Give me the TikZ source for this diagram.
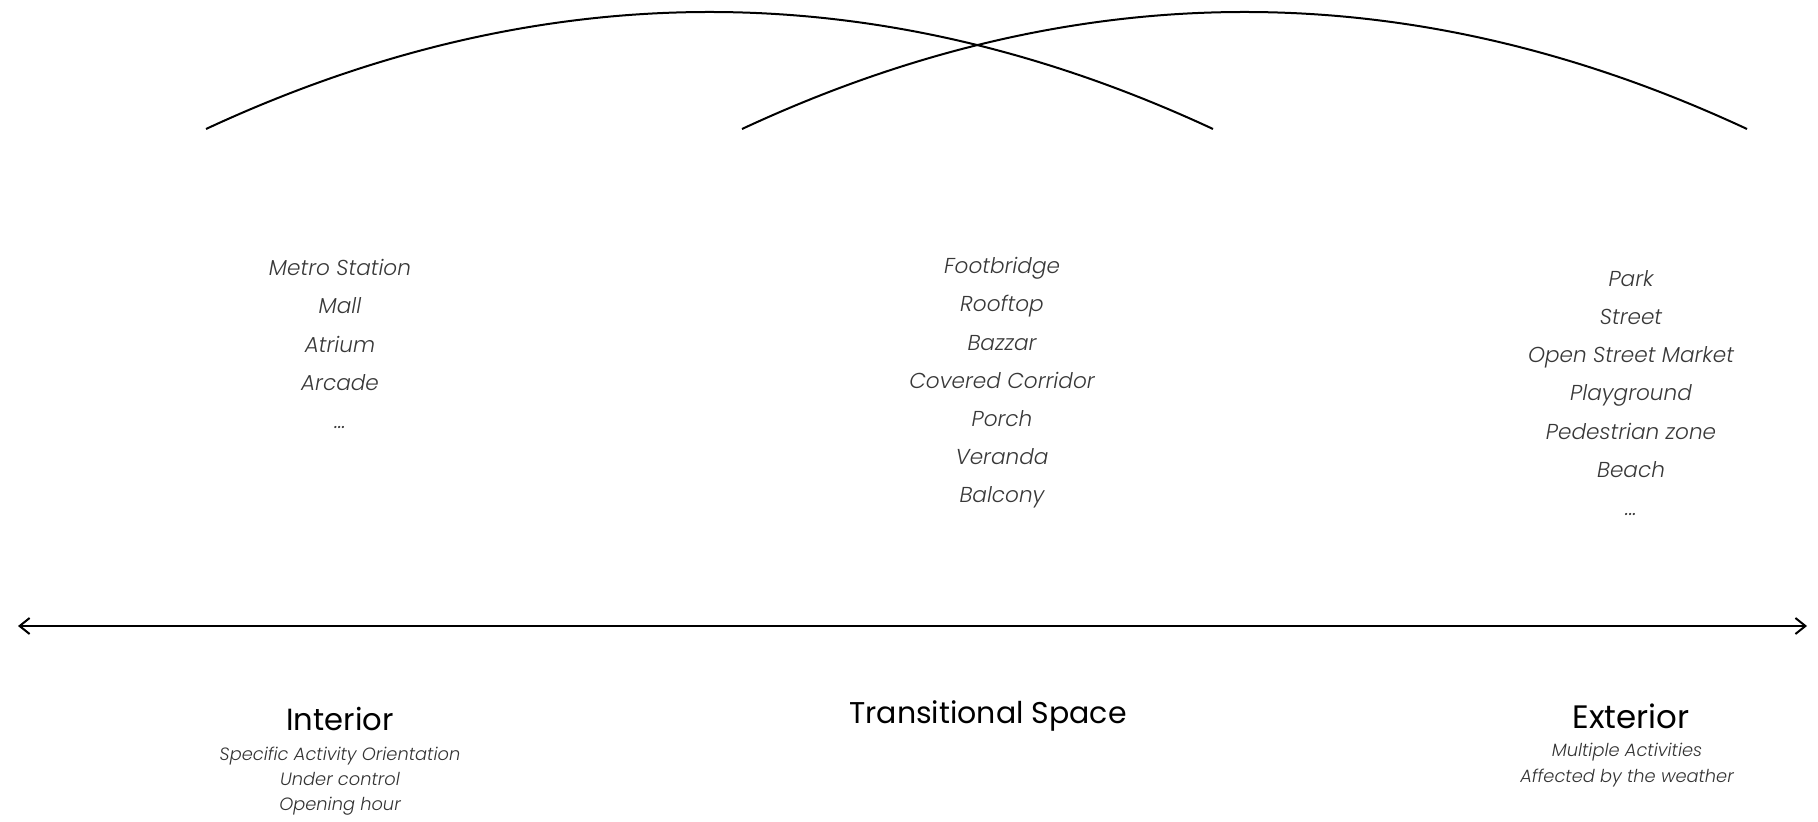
\documentclass[tikz,border=0pt]{standalone}
\usepackage{fontspec}
\setmainfont{Poppins}[UprightFont=* Light, ItalicFont=* Light Italic]
\newfontfamily\headfont{Poppins}
\usetikzlibrary{arrows.meta}
\begin{document}
\begin{tikzpicture}[x=0.5pt,y=-0.5pt,
  listtxt/.style={align=center, inner sep=0pt, text=black!78,
    font=\fontsize{10.8pt}{19.1pt}\selectfont\itshape},
  subtxt/.style={align=center, inner sep=0pt, text=black!80,
    font=\fontsize{8.9pt}{12.6pt}\selectfont\itshape},
  headtxt/.style={inner sep=0pt, text=black, font=\fontsize{#1}{18pt}\selectfont\headfont},
  curve/.style={line width=1pt, black},
  axis/.style={line width=1pt, black, {Straight Barb[length=5pt,width=8pt,line width=1pt]}-{Straight Barb[length=5pt,width=8pt,line width=1pt]}}
]
\useasboundingbox (0,0) rectangle (1818,822);
% arcs
\coordinate (a1s) at (206,129);
\coordinate (a1e) at (1213,129);
\coordinate (a2s) at (742,129);
\coordinate (a2e) at (1747,129);
\draw[curve] (a1s) .. controls (541.7,-27) and (877.3,-27) .. (a1e);
\draw[curve] (a2s) .. controls (1077,-27) and (1412,-27) .. (a2e);
% axis
\coordinate (axl) at (18,626);
\coordinate (axr) at (1807,626);
\draw[axis] (axl) -- (axr);
% lists
\node[listtxt] (intlist) at (340,344) {Metro Station\\Mall\\Atrium\\Arcade\\\ldots};
\node[listtxt] (translist) at (1002,383) {Footbridge\\Rooftop\\Bazzar\\Covered Corridor\\Porch\\Veranda\\Balcony};
\node[listtxt] (extlist) at (1631,393) {Park\\Street\\Open Street Market\\Playground\\Pedestrian zone\\Beach\\...};
% headings
\node[headtxt=15.3pt] (inthead) at (340,719) {Interior};
\node[headtxt=15pt] (transhead) at (988,716) {Transitional Space};
\node[headtxt=16.2pt] (exthead) at (1631,716) {Exterior};
% sub texts
\node[subtxt] (intsub) at (340,781) {Specific Activity Orientation\\Under control\\Opening hour};
\node[subtxt] (extsub) at (1627,765) {Multiple Activities\\Affected by the weather};
\end{tikzpicture}
\end{document}
